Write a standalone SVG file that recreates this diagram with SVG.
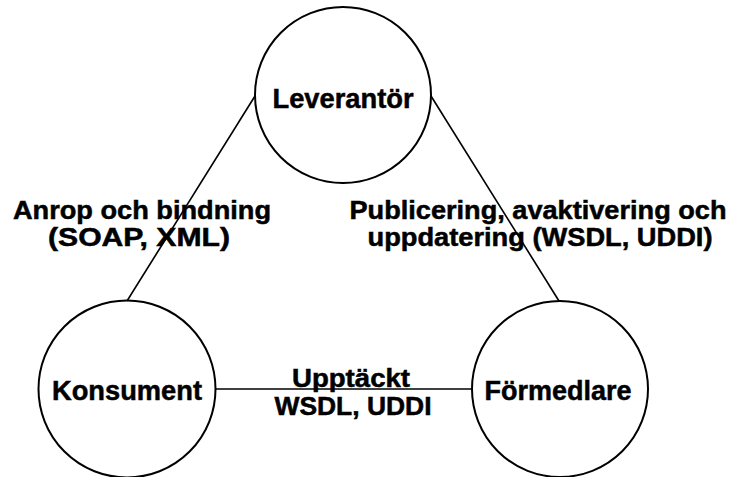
<svg xmlns="http://www.w3.org/2000/svg" width="732" height="477" viewBox="0 0 732 477">
  <style>
    .node { fill: #ffffff; stroke: #000000; stroke-width: 2; }
    .edge { stroke: #000000; stroke-width: 1.6; fill: none; }
    .label { font-family: "Liberation Sans", Arial, sans-serif; font-weight: bold; fill: #000000; stroke: #000000; stroke-width: 0.5; text-anchor: middle; }
    .nl { font-size: 28px; }
    .el { font-size: 25px; }
  </style>
  <rect width="732" height="477" fill="#ffffff"/>

  <!-- nodes -->
  <g id="leverantor">
    <circle class="node" cx="343" cy="95" r="88"/>
    <text class="label nl" x="343" y="108" textLength="141" lengthAdjust="spacingAndGlyphs">Leverantör</text>
  </g>
  <g id="konsument">
    <circle class="node" cx="127" cy="389" r="88.5"/>
    <text class="label nl" x="127" y="400" textLength="150" lengthAdjust="spacingAndGlyphs">Konsument</text>
  </g>
  <g id="formedlare">
    <circle class="node" cx="560" cy="389" r="88"/>
    <text class="label nl" x="558" y="400" textLength="147" lengthAdjust="spacingAndGlyphs">Förmedlare</text>
  </g>

  <!-- connectors -->
  <g id="connectors">
    <line class="edge" x1="255" y1="96" x2="127" y2="301"/>
    <line class="edge" x1="431" y1="96" x2="559" y2="301"/>
    <line class="edge" x1="215" y1="389" x2="472" y2="389"/>
  </g>

  <!-- connector labels -->
  <g id="edge-labels">
    <text class="label el" x="142" y="219" textLength="258" lengthAdjust="spacingAndGlyphs">Anrop och bindning</text>
    <text class="label el" x="139" y="246" textLength="182" lengthAdjust="spacingAndGlyphs">(SOAP, XML)</text>
    <text class="label el" x="538" y="219" textLength="377" lengthAdjust="spacingAndGlyphs">Publicering, avaktivering och</text>
    <text class="label el" x="540" y="246" textLength="345" lengthAdjust="spacingAndGlyphs">uppdatering (WSDL, UDDI)</text>
    <text class="label el" x="351" y="387" textLength="118" lengthAdjust="spacingAndGlyphs">Upptäckt</text>
    <text class="label el" x="353" y="415" textLength="157" lengthAdjust="spacingAndGlyphs">WSDL, UDDI</text>
  </g>
</svg>
